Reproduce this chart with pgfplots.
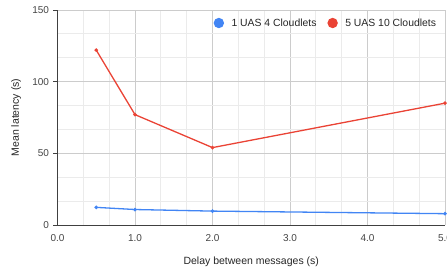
\documentclass[border=0pt]{standalone}
\usepackage{fontspec}
\setmainfont{Liberation Sans}
\usepackage{pgfplots}
\pgfplotsset{compat=1.18}
\definecolor{gblue}{HTML}{4285F4}
\definecolor{gred}{HTML}{EA4335}
\definecolor{majgrid}{HTML}{CCCCCC}
\definecolor{mingrid}{HTML}{EBEBEB}
\definecolor{ticktext}{HTML}{444444}
\begin{document}
\begin{tikzpicture}[x=1pt,y=1pt]
\useasboundingbox (0,0) rectangle (447,271);
\begin{axis}[
  at={(57.5pt,46pt)}, anchor=south west,
  scale only axis, width=387.5pt, height=215pt,
  xmin=0, xmax=5, ymin=0, ymax=150,
  xtick={0,1,2,3,4,5}, ytick={0,50,100,150},
  minor x tick num=2, minor y tick num=2,
  grid=both,
  major grid style={majgrid, line width=0.8pt},
  minor grid style={mingrid, line width=0.8pt},
  axis x line*=bottom, axis y line*=left,
  axis line style={black!75, line width=0.9pt},
  tick align=outside,
  major tick length=4pt,
  major x tick style={draw=none},
  minor tick style={draw=none},
  major y tick style={black!75, line width=0.8pt},
  /pgf/number format/assume math mode=true,
  ticklabel style={font=\fontsize{10}{12}\selectfont, text=ticktext},
  x tick label style={/pgf/number format/fixed, /pgf/number format/fixed zerofill, /pgf/number format/precision=1, yshift=-2pt},
  y tick label style={xshift=-1pt},
  xlabel={Delay between messages (s)},
  ylabel={Mean latency (s)},
  label style={font=\fontsize{10.5}{12}\selectfont, text=black!85},
  xlabel style={at={(axis description cs:0.5,-0.172)}, anchor=center},
  ylabel style={at={(axis description cs:-0.107,0.5)}, anchor=center},
  legend columns=2,
  legend image code/.code={\fill (0pt,0pt) circle (4.5pt); \path (-4.5pt,0pt) (10pt,0pt);},
  legend style={draw=none, fill=none, inner sep=0pt,
    at={(0.4026,0.9395)}, anchor=west,
    font=\fontsize{10.4}{12}\selectfont, text=black!85,
    /tikz/every even column/.append style={column sep=9pt}},
]
\addplot[color=gblue, line width=1.3pt, mark=*, mark size=1.1pt] coordinates {
  (0.5,12.3) (1,10.8) (2,9.7) (5,7.9)
};
\addlegendentry{1 UAS 4 Cloudlets}
\addplot[color=gred, line width=1.3pt, mark=*, mark size=1.1pt] coordinates {
  (0.5,122) (1,77) (2,54) (5,85)
};
\addlegendentry{5 UAS 10 Cloudlets}
\end{axis}
\end{tikzpicture}
\end{document}
